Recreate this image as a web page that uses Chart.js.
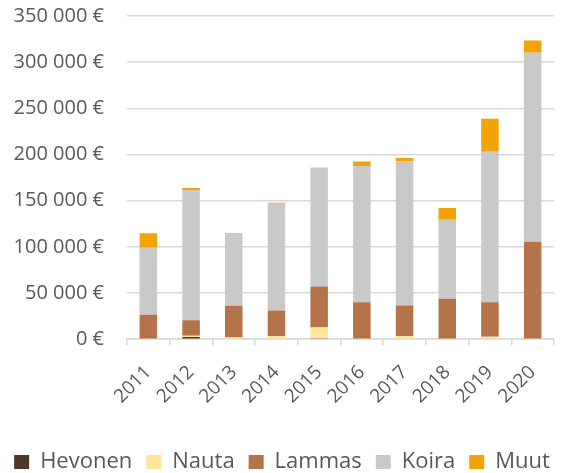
<!DOCTYPE html>
<html>
<head>
<meta charset="utf-8">
<script src="https://cdn.jsdelivr.net/npm/chart.js@4/dist/chart.umd.min.js"></script>
<style>
  html, body { margin: 0; padding: 0; background: #fff; }
  #wrap { width: 564px; height: 473px; }
</style>
</head>
<body>
<div id="wrap"><canvas id="chart" width="564" height="473"></canvas></div>
<script>
// Values (€)
const years = ['2011', '2012', '2013', '2014', '2015', '2016', '2017', '2018', '2019', '2020'];
const hevonen = [0, 2200, 0, 0, 1000, 0, 0, 0, 0, 0];
const nauta = [800, 1500, 1800, 3300, 11500, 500, 3300, 300, 2500, 300];
const lammas = [25600, 16900, 34300, 27800, 44600, 39600, 33200, 43400, 37600, 105200];
const koira = [72600, 141000, 78900, 115600, 128700, 147500, 156500, 85700, 163000, 204700];
const muut = [15600, 2200, 0, 1100, 0, 4700, 3300, 12700, 35500, 13300];

const seriesNames = ['Hevonen', 'Nauta', 'Lammas', 'Koira', 'Muut'];
const seriesValues = [hevonen, nauta, lammas, koira, muut];
const seriesColors = ['#4E3629', '#FFE699', '#B3744A', '#C9C9C9', '#F2A407'];

const textColor = '#595959';
const fontFamily = '"Open Sans", sans-serif';

// thousands separated by a space, then the euro sign
function euro(value) {
    return String(value).replace(/\B(?=(\d{3})+(?!\d))/g, ' ') + ' €';
}

const datasets = seriesNames.map((name, i) => ({
    label: name,
    data: seriesValues[i],
    backgroundColor: seriesColors[i],
    borderWidth: 0,
    categoryPercentage: 1,
    barPercentage: 0.41
}));

new Chart(document.getElementById('chart'), {
    type: 'bar',
    data: { labels: years, datasets: datasets },
    options: {
        responsive: false,
        animation: false,
        layout: { padding: { left: 0, right: 0, top: 0, bottom: -10 } },
        plugins: {
            tooltip: { enabled: false },
            legend: {
                position: 'bottom',
                labels: {
                    color: textColor,
                    font: { family: fontFamily, size: 22 },
                    boxWidth: 15,
                    boxHeight: 14,
                    padding: 14
                }
            }
        },
        scales: {
            x: {
                stacked: true,
                offset: true,
                grid: {
                    drawOnChartArea: false,
                    drawTicks: true,
                    tickLength: 6,
                    color: '#d9d9d9',
                    lineWidth: 1.5
                },
                border: { color: '#d9d9d9', width: 1.5 },
                ticks: {
                    color: textColor,
                    font: { family: fontFamily, size: 19 },
                    minRotation: 45,
                    maxRotation: 45,
                    padding: 16
                },
                afterFit: (scale) => {
                    scale.height += 13;
                    scale.paddingLeft = 0;
                    scale.paddingRight = 10;
                }
            },
            y: {
                stacked: true,
                min: 0,
                max: 350000,
                grid: {
                    color: '#d9d9d9',
                    lineWidth: 1.5,
                    drawTicks: false
                },
                border: { display: false },
                ticks: {
                    stepSize: 50000,
                    color: textColor,
                    font: { family: fontFamily, size: 20 },
                    padding: 23,
                    callback: (v) => euro(v)
                },
                afterFit: (scale) => {
                    scale.width = 127;
                    scale.paddingTop = 16;
                    scale.paddingBottom = 0;
                }
            }
        }
    }
});
</script>
</body>
</html>
